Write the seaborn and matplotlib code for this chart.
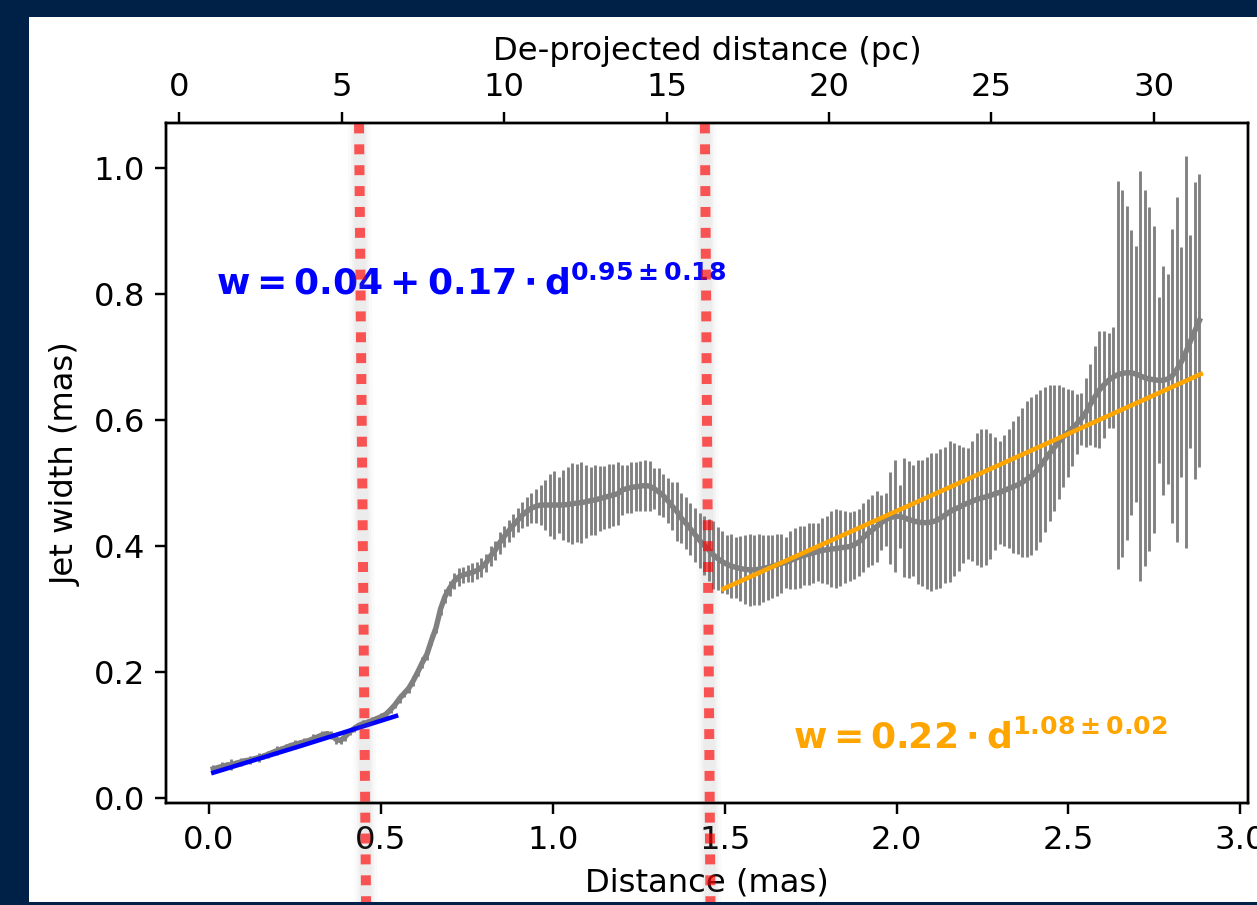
import numpy as np
import matplotlib
matplotlib.use("Agg")
import matplotlib.pyplot as plt
import seaborn as sns
from matplotlib.patches import Rectangle

# ------------------------------------------------------------
# Jet width profile
# sampled every ~0.0132 mas along the jet
# ------------------------------------------------------------
distance = np.linspace(0.0125, 2.881, 218)

width = [
    0.046, 0.048, 0.050, 0.052, 0.053, 0.055, 0.057, 0.059, 0.060, 0.062,
    0.064, 0.066, 0.069, 0.072, 0.075, 0.077, 0.080, 0.083, 0.085, 0.087,
    0.089, 0.091, 0.094, 0.097, 0.100, 0.102, 0.100, 0.093, 0.091, 0.097,
    0.105, 0.110, 0.115, 0.118, 0.120, 0.123, 0.126, 0.129, 0.133, 0.140,
    0.148, 0.158, 0.166, 0.174, 0.186, 0.200, 0.215, 0.228, 0.250, 0.270,
    0.300, 0.320, 0.333, 0.344, 0.351, 0.354, 0.356, 0.358, 0.361, 0.366,
    0.373, 0.384, 0.393, 0.405, 0.415, 0.424, 0.433, 0.441, 0.449, 0.455,
    0.460, 0.463, 0.465, 0.465, 0.465, 0.465, 0.465, 0.465, 0.466, 0.467,
    0.468, 0.469, 0.470, 0.472, 0.473, 0.475, 0.477, 0.479, 0.481, 0.483,
    0.489, 0.491, 0.493, 0.494, 0.495, 0.496, 0.495, 0.491, 0.486, 0.480,
    0.472, 0.463, 0.455, 0.444, 0.436, 0.427, 0.418, 0.409, 0.401, 0.394,
    0.386, 0.380, 0.375, 0.371, 0.368, 0.366, 0.364, 0.363, 0.362, 0.362,
    0.363, 0.364, 0.366, 0.368, 0.370, 0.372, 0.374, 0.377, 0.380, 0.383,
    0.385, 0.387, 0.389, 0.391, 0.393, 0.394, 0.395, 0.396, 0.397, 0.398,
    0.399, 0.402, 0.406, 0.413, 0.420, 0.425, 0.431, 0.437, 0.442, 0.445,
    0.447, 0.447, 0.445, 0.442, 0.440, 0.438, 0.437, 0.437, 0.438, 0.440,
    0.444, 0.449, 0.454, 0.458, 0.461, 0.465, 0.468, 0.471, 0.474, 0.476,
    0.478, 0.480, 0.483, 0.485, 0.488, 0.491, 0.494, 0.497, 0.501, 0.506,
    0.511, 0.518, 0.527, 0.537, 0.547, 0.556, 0.565, 0.573, 0.580, 0.587,
    0.594, 0.602, 0.612, 0.625, 0.637, 0.648, 0.656, 0.663, 0.668, 0.672,
    0.674, 0.675, 0.675, 0.673, 0.670, 0.667, 0.665, 0.664, 0.663, 0.663,
    0.665, 0.670, 0.680, 0.692, 0.708, 0.725, 0.742, 0.758,
]

width_err = [
    0.006, 0.004, 0.007, 0.005, 0.008, 0.004, 0.007, 0.005, 0.006, 0.004,
    0.007, 0.005, 0.006, 0.004, 0.007, 0.005, 0.006, 0.004, 0.007, 0.005,
    0.006, 0.004, 0.007, 0.005, 0.006, 0.004, 0.006, 0.007, 0.005, 0.006,
    0.005, 0.006, 0.004, 0.006, 0.005, 0.006, 0.004, 0.006, 0.005, 0.006,
    0.006, 0.007, 0.006, 0.007, 0.008, 0.007, 0.008, 0.009, 0.008, 0.009,
    0.010, 0.011, 0.012, 0.013, 0.014, 0.013, 0.014, 0.015, 0.014, 0.015,
    0.015, 0.016, 0.015, 0.017, 0.016, 0.017, 0.018, 0.019, 0.021, 0.023,
    0.024, 0.027, 0.031, 0.040, 0.049, 0.054, 0.044, 0.055, 0.060, 0.064,
    0.062, 0.064, 0.058, 0.054, 0.055, 0.052, 0.050, 0.051, 0.049, 0.050,
    0.040, 0.038, 0.041, 0.039, 0.040, 0.041, 0.040, 0.032, 0.037, 0.034,
    0.036, 0.038, 0.047, 0.040, 0.041, 0.042, 0.043, 0.044, 0.047, 0.049,
    0.054, 0.050, 0.049, 0.047, 0.051, 0.049, 0.052, 0.055, 0.057, 0.056,
    0.056, 0.053, 0.052, 0.050, 0.049, 0.047, 0.040, 0.046, 0.048, 0.049,
    0.047, 0.049, 0.048, 0.046, 0.052, 0.054, 0.060, 0.062, 0.060, 0.057,
    0.055, 0.054, 0.053, 0.055, 0.054, 0.056, 0.056, 0.044, 0.042, 0.073,
    0.089, 0.050, 0.095, 0.093, 0.088, 0.099, 0.100, 0.105, 0.110, 0.108,
    0.110, 0.108, 0.112, 0.105, 0.100, 0.092, 0.088, 0.095, 0.105, 0.110,
    0.108, 0.100, 0.090, 0.082, 0.088, 0.095, 0.105, 0.110, 0.118, 0.124,
    0.126, 0.124, 0.120, 0.115, 0.108, 0.100, 0.090, 0.080, 0.070, 0.060,
    0.048, 0.041, 0.055, 0.064, 0.080, 0.093, 0.085, 0.075, 0.080, 0.308,
    0.292, 0.265, 0.226, 0.203, 0.326, 0.299, 0.273, 0.244, 0.132, 0.182,
    0.167, 0.234, 0.274, 0.183, 0.311, 0.169, 0.236, 0.233,
]

# power-law fits, inner and outer jet
fit_inner_d = [0.0125, 0.27, 0.544]
fit_inner_w = [0.040, 0.083, 0.130]
fit_outer_d = [1.496, 2.19, 2.885]
fit_outer_w = [0.332, 0.502, 0.673]

# break points (dotted markers, slightly tilted in the original)
break_d_top = [0.4364, 1.4423]
break_d_bottom = [0.4568, 1.4585]

pc_ticks = [0, 5, 10, 15, 20, 25, 30]

# ------------------------------------------------------------
# Figure
# ------------------------------------------------------------
plt.rcParams["font.size"] = 10.7

DPI = 217
fig = plt.figure(figsize=(1257.3 / DPI, 905.3 / DPI), dpi=DPI)
fig.patch.set_facecolor("white")
ax = fig.add_axes([0.13206, 0.11215, 0.86078, 0.75116])

ax.errorbar(distance, width, yerr=width_err, fmt="none",
            ecolor="gray", elinewidth=0.95, capsize=0, zorder=2)
sns.lineplot(x=distance, y=width, color="gray", lw=1.8, ax=ax, zorder=2.5)
sns.lineplot(x=fit_inner_d, y=fit_inner_w, color="blue", lw=1.5, ax=ax, zorder=3)
sns.lineplot(x=fit_outer_d, y=fit_outer_w, color="orange", lw=1.5, ax=ax, zorder=3)

ax.text(0.020, 0.80, r"$\mathbf{w = 0.04 + 0.17 \cdot d^{0.95 \pm 0.18}}$",
        color="blue", fontsize=12, va="baseline", ha="left", zorder=3)
ax.text(1.700, 0.079, r"$\mathbf{w = 0.22 \cdot d^{1.08 \pm 0.02}}$",
        color="orange", fontsize=12, va="baseline", ha="left", zorder=3)

ax.set_xlim(-0.125, 3.023)
ax.set_ylim(-0.0089, 1.0709)
y_top, y_bot = 1.0709, -0.166
for d0, d1 in zip(break_d_top, break_d_bottom):
    # soft shadow
    for lw_, a_ in [(7.5, 0.04), (5.5, 0.05), (4.0, 0.06)]:
        ax.plot([d0, d1], [y_top, y_bot], color="gray", lw=lw_, alpha=a_,
                clip_on=False, zorder=4, solid_capstyle="butt")
    ax.plot([d0, d1], [y_top, y_bot], color="red", alpha=0.65, lw=3.3,
            linestyle=(0, (1, 1.1)), dash_capstyle="butt",
            clip_on=False, zorder=5)

ax.set_xticks([0.0, 0.5, 1.0, 1.5, 2.0, 2.5, 3.0])
ax.set_yticks([0.0, 0.2, 0.4, 0.6, 0.8, 1.0])
ax.set_xlabel("Distance (mas)")
ax.set_ylabel("Jet width (mas)")

ax2 = ax.twiny()
ax2.set_xlim(-0.41, 32.91)
ax2.set_xticks(pc_ticks)
ax2.set_xlabel("De-projected distance (pc)")

# navy frame around the slide
navy = "#002147"
for rect in [(0, 0, 29 / 1257, 1), (0, 1 - 17 / 905, 1, 17 / 905), (0, 0, 1, 3 / 905)]:
    fig.add_artist(Rectangle(rect[:2], rect[2], rect[3], transform=fig.transFigure,
                             facecolor=navy, edgecolor="none", zorder=100))

fig.savefig("out.png", dpi=DPI)
